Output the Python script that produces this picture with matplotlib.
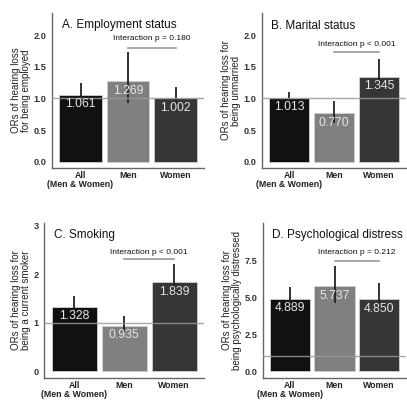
import matplotlib
matplotlib.use("Agg")
import matplotlib.pyplot as plt
import numpy as np

plt.rcParams['font.family'] = ['Liberation Sans', 'DejaVu Sans']

categories = ["All\n(Men & Women)", "Men", "Women"]
bar_colors = ["#111111", "#808080", "#363636"]

panels = [
    dict(title="A. Employment status",
         ylabel="ORs of hearing loss\nfor being employed",
         values=[1.061, 1.269, 1.002], lo=[0.91, 0.93, 0.85], hi=[1.24, 1.73, 1.18],
         pval="Interaction p = 0.180",
         yticks=[0.0, 0.5, 1.0, 1.5, 2.0], yticklabels=["0.0", "0.5", "1.0", "1.5", "2.0"],
         ylim=(-0.1, 2.35), title_y=2.16, bracket_y=1.80, ptext_y=1.94),
    dict(title="B. Marital status",
         ylabel="ORs of hearing loss for\nbeing unmarried",
         values=[1.013, 0.770, 1.345], lo=[0.94, 0.61, 1.12], hi=[1.10, 0.96, 1.62],
         pval="Interaction p < 0.001",
         yticks=[0.0, 0.5, 1.0, 1.5, 2.0], yticklabels=["0.0", "0.5", "1.0", "1.5", "2.0"],
         ylim=(-0.1, 2.35), title_y=2.15, bracket_y=1.73, ptext_y=1.86),
    dict(title="C. Smoking",
         ylabel="ORs of hearing loss for\nbeing a current smoker",
         values=[1.328, 0.935, 1.839], lo=[1.15, 0.80, 1.55], hi=[1.54, 1.14, 2.20],
         pval="Interaction p < 0.001",
         yticks=[0, 1, 2, 3], yticklabels=["0", "1", "2", "3"],
         ylim=(-0.14, 3.05), title_y=2.81, bracket_y=2.30, ptext_y=2.45),
    dict(title="D. Psychological distress",
         ylabel="ORs of hearing loss for\nbeing psychologically distressed",
         values=[4.889, 5.737, 4.850], lo=[4.2, 4.6, 4.0], hi=[5.65, 7.12, 5.92],
         pval="Interaction p = 0.212",
         yticks=[0.0, 2.5, 5.0, 7.5], yticklabels=["0.0", "2.5", "5.0", "7.5"],
         ylim=(-0.47, 10.0), title_y=9.2, bracket_y=7.46, ptext_y=7.98),
]

W, H = 407, 401
fig = plt.figure(figsize=(W / 100, H / 100), dpi=100)
fig.patch.set_facecolor("white")

# pixel boxes: left, right, top, bottom
boxes = [(52, 204, 13, 168), (262, 406, 13, 168), (44, 204, 223, 378), (263, 406, 223, 378)]

for p, (l, r, t, b) in zip(panels, boxes):
    ax = fig.add_axes([l / W, 1 - b / H, (r - l) / W, (b - t) / H])
    x = np.arange(len(categories))
    vals = np.array(p["values"])
    ax.bar(x, vals, width=0.9, color=bar_colors, edgecolor="#cfcfcf", linewidth=0.6, zorder=2)
    ax.vlines(x, p["lo"], p["hi"], color="#222222", linewidth=1.3, zorder=3)
    ax.axhline(1.0, color="#9a9a9a", linewidth=1.0, alpha=0.85, zorder=4)
    for xi, v in zip(x, vals):
        ax.annotate(f"{v:.3f}", (xi, v), xytext=(0, -7), textcoords="offset points",
                    ha="center", va="center", color="#e6e6e6", fontsize=8.7, zorder=5)
    ax.plot([1, 2], [p["bracket_y"], p["bracket_y"]], color="#999999", linewidth=1.2, zorder=3)
    ax.text(1.5, p["ptext_y"], p["pval"], ha="center", va="center", fontsize=6, color="#111111")
    ax.text(0.065, p["title_y"], p["title"], transform=ax.get_yaxis_transform(),
            ha="left", va="center", fontsize=8.5, color="#111111")
    ax.set_xlim(-0.6, 2.6)
    ax.set_ylim(*p["ylim"])
    ax.set_yticks(p["yticks"])
    ax.set_yticklabels(p["yticklabels"], fontsize=6.6, fontweight="bold", color="#333333")
    ax.set_xticks(x)
    ax.set_xticklabels(categories, fontsize=6.3, fontweight="bold", color="#222222",
                       linespacing=0.95)
    ax.tick_params(axis="y", length=0, pad=4)
    ax.tick_params(axis="x", length=0, pad=2.5)
    ax.set_ylabel(p["ylabel"], fontsize=7, color="#222222", linespacing=1.0, labelpad=2)
    for s in ["top", "right"]:
        ax.spines[s].set_visible(False)
    for s in ["left", "bottom"]:
        ax.spines[s].set_color("#666666")
        ax.spines[s].set_linewidth(1.0)
    ax.set_facecolor("white")

fig.savefig("out.png", dpi=100)
